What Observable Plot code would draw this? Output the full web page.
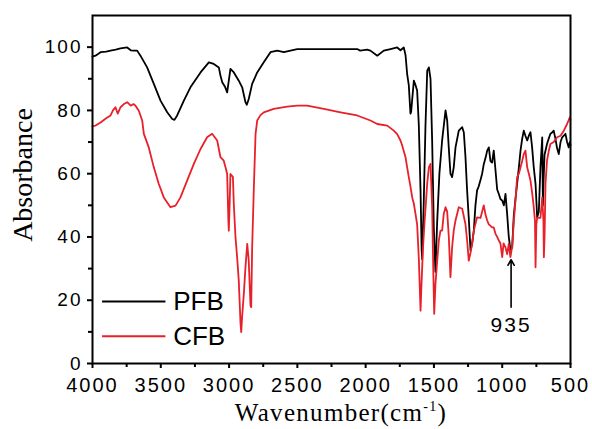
<!DOCTYPE html>
<html>
<head>
<meta charset="utf-8">
<script src="https://cdn.jsdelivr.net/npm/d3@7"></script>
<script src="https://cdn.jsdelivr.net/npm/@observablehq/plot@0.6"></script>
<style>
  html, body { margin: 0; padding: 0; background: #fff; }
  #chart svg { display: block; }
</style>
</head>
<body>
<div id="chart"></div>
<script>
// ---- Data ----
const seriesNames = ["PFB", "CFB"];
const seriesColors = ["#000000", "#e8202a"];

const pfbWavenumber = [4000,3978,3941,3900,3868,3830,3795,3746,3720,3698,3673,3649,3600,3551,3502,3453,3416,3400,3380,3331,3283,3209,3148,3112,3075,3063,3050,3030,3014,2990,2965,2929,2904,2880,2870,2856,2831,2794,2746,2697,2648,2599,2550,2501,2400,2300,2200,2100,2062,2040,1990,1965,1915,1867,1818,1769,1745,1721,1708,1696,1684,1672,1667,1647,1635,1623,1611,1598,1590,1586,1575,1562,1549,1537,1525,1513,1501,1489,1476,1460,1440,1415,1403,1391,1379,1367,1355,1342,1318,1293,1281,1269,1257,1245,1232,1220,1208,1196,1184,1172,1159,1147,1135,1122,1110,1098,1086,1074,1062,1049,1037,1025,1013,1000,988,976,964,952,940,927,915,903,891,878,866,854,842,830,817,805,793,781,769,756,744,732,720,707,702,697,690,672,660,647,635,623,610,598,586,573,561,549,537,525,513,505,500];
const pfbAbsorbance = [97.0,97.3,98.4,98.6,98.9,99.2,99.6,99.9,99.0,98.9,98.9,97.3,93.6,88.4,83.1,79.4,77.3,77.0,78.4,83.1,87.3,92.0,95.2,94.7,93.6,91.0,88.9,87.5,85.7,93.1,92.0,89.4,87.3,82.6,81.8,83.6,88.4,92.0,95.2,98.4,98.9,98.4,98.9,99.4,99.4,99.4,99.4,99.4,99.4,98.9,99.2,98.9,97.3,98.9,99.4,99.9,99.0,99.9,97.5,91.5,88.0,79.0,79.5,89.4,88.0,86.3,75.8,54.7,36.0,33.0,50.0,75.0,92.6,93.6,90.0,70.5,43.0,29.0,45.0,60.0,70.5,80.0,76.8,68.0,60.0,58.9,62.0,68.3,73.6,74.7,73.0,65.2,54.7,46.0,35.7,38.0,42.0,50.0,54.7,56.0,58.0,60.0,63.0,65.0,67.3,68.3,64.0,63.5,67.3,61.0,55.0,53.6,52.0,51.5,50.0,53.6,47.3,40.0,36.0,36.7,47.0,52.0,56.8,62.0,67.3,71.0,73.6,72.0,70.5,72.0,73.1,68.3,62.0,56.8,46.2,48.0,62.0,71.5,50.0,58.0,66.0,69.4,71.0,72.6,73.0,73.6,71.0,68.0,66.2,70.0,71.5,72.0,72.6,70.0,68.3,70.0,69.0];

const cfbWavenumber = [4000,3978,3941,3900,3868,3850,3832,3815,3795,3770,3746,3720,3700,3685,3661,3636,3624,3588,3551,3515,3478,3429,3392,3356,3307,3258,3209,3161,3124,3087,3063,3039,3026,3014,3005,3002,2996,2990,2972,2965,2953,2941,2929,2916,2911,2904,2892,2880,2867,2856,2843,2838,2831,2819,2806,2794,2770,2746,2673,2575,2501,2428,2306,2184,2062,1965,1915,1842,1794,1769,1745,1733,1708,1696,1684,1672,1659,1647,1635,1623,1611,1598,1590,1580,1568,1560,1549,1537,1525,1513,1505,1498,1489,1476,1464,1452,1440,1428,1415,1403,1391,1379,1367,1355,1342,1318,1293,1269,1257,1245,1232,1220,1208,1184,1159,1135,1122,1110,1098,1086,1074,1062,1049,1037,1025,1013,1000,990,976,964,952,940,927,915,903,891,878,866,854,842,830,817,805,793,781,769,760,756,750,744,732,720,707,698,695,690,683,672,660,647,623,598,573,549,525,505,500];
const cfbAbsorbance = [75.0,75.2,76.2,77.5,78.4,80.0,81.0,79.0,81.0,82.0,82.6,81.5,82.0,81.5,79.9,76.8,72.6,68.3,62.0,56.8,52.5,49.4,49.9,52.5,57.8,63.1,67.8,71.5,72.6,70.5,65.2,64.1,62.0,59.9,45.0,42.0,50.0,59.9,59.0,50.0,40.0,33.6,26.2,12.5,9.9,15.0,22.0,30.4,37.8,32.5,18.3,17.8,36.7,55.0,72.6,76.8,78.5,79.4,80.5,81.2,81.5,81.5,80.5,79.4,78.4,76.8,75.7,75.2,73.6,72.5,70.5,69.0,65.2,62.0,58.9,56.0,52.5,50.5,47.3,44.0,33.6,16.7,26.2,36.7,45.2,50.0,57.0,62.0,63.1,49.4,30.0,15.7,25.0,32.5,38.9,42.0,42.0,47.3,49.4,48.0,40.0,27.3,36.7,42.0,45.2,49.4,48.9,44.0,38.9,32.5,35.0,38.0,42.0,46.2,46.0,50.0,47.0,45.2,44.0,43.5,43.0,43.0,41.0,40.0,38.9,38.0,33.6,38.0,36.7,34.6,37.8,33.6,37.0,45.0,51.5,58.9,60.0,62.0,64.0,66.2,67.3,62.0,60.0,57.8,54.0,49.4,45.0,30.4,44.0,46.0,46.0,46.0,52.5,45.0,33.6,40.0,56.8,64.1,67.0,69.4,70.0,71.5,72.0,73.6,75.7,77.8,77.0];

const xMajorTicks = [4000, 3500, 3000, 2500, 2000, 1500, 1000, 500];
const xMinorTicks = [3750, 3250, 2750, 2250, 1750, 1250, 750];
const yMajorTicks = [0, 20, 40, 60, 80, 100];
const yMinorTicks = [10, 30, 50, 70, 90];

const annotationWavenumber = [935];
const annotationLabel = ["935"];

const xTitle = "Wavenumber(cm";
const xTitleSup = "-1";
const yTitle = "Absorbance";

// ---- Build table ----
const rows = [];
pfbWavenumber.forEach((w, i) => rows.push({series: seriesNames[0], wn: w, a: pfbAbsorbance[i]}));
cfbWavenumber.forEach((w, i) => rows.push({series: seriesNames[1], wn: w, a: cfbAbsorbance[i]}));

const annot = annotationWavenumber.map((w, i) => ({wn: w, label: annotationLabel[i]}));

const legendRows = seriesNames.map((s, i) => ({series: s, color: seriesColors[i], y: 19.6 - i * 11}));

const sans = "'Liberation Sans', Arial, sans-serif";
const serif = "'Liberation Serif', 'Times New Roman', serif";

const chart = Plot.plot({
  width: 592,
  height: 429,
  marginLeft: 92,
  marginRight: 22,
  marginTop: 15,
  marginBottom: 66,
  style: {fontFamily: sans, color: "#000", background: "#fff"},
  x: {domain: [4000, 500]},
  y: {domain: [0, 110]},
  marks: [
    Plot.line(rows.filter(d => d.series === "PFB"), {x: "wn", y: "a", stroke: seriesColors[0], strokeWidth: 1.8, curve: "linear"}),
    Plot.line(rows.filter(d => d.series === "CFB"), {x: "wn", y: "a", stroke: seriesColors[1], strokeWidth: 1.8, curve: "linear"}),
    Plot.frame({stroke: "#000", strokeWidth: 2}),
    Plot.axisX({ticks: xMajorTicks, tickSize: 5, tickPadding: 9, fontSize: 20, label: null, strokeWidth: 2, tickFormat: d => String(d)}),
    Plot.axisX({ticks: xMinorTicks, tickSize: 4, label: null, strokeWidth: 2, tickFormat: () => ""}),
    Plot.axisY({ticks: yMajorTicks, tickSize: 5, tickPadding: 5, fontSize: 19, label: null, strokeWidth: 2, tickFormat: d => String(d)}),
    Plot.axisY({ticks: yMinorTicks, tickSize: 4, label: null, strokeWidth: 2, tickFormat: () => ""}),
    // legend
    Plot.link(legendRows, {x1: 3930, x2: 3466, y1: "y", y2: "y", stroke: "color", strokeWidth: 2}),
    Plot.text(legendRows, {x: 3409, y: "y", text: "series", textAnchor: "start", fontSize: 26, fontFamily: sans}),
    // annotation
    Plot.arrow(annot, {x1: "wn", x2: "wn", y1: 17.8, y2: 32.8, stroke: "#000", strokeWidth: 1.6, headLength: 6, insetEnd: 0}),
    Plot.text(annot, {x: "wn", y: 12.0, text: "label", fontSize: 21, fontFamily: sans})
  ]
});

const svg = d3.select(chart);
svg.selectAll('g[aria-label="x-axis tick label"] text').attr("letter-spacing", 2);
svg.selectAll('g[aria-label="y-axis tick label"] text').attr("letter-spacing", 2);
svg.selectAll('g[aria-label="text"] text').filter(function() { return this.textContent === "935"; }).attr("letter-spacing", 2);

// axis titles
const xt = svg.append("text")
  .attr("x", 341).attr("y", 421)
  .attr("text-anchor", "middle")
  .attr("font-family", serif).attr("font-size", 25).attr("letter-spacing", 1.3)
  .attr("fill", "#000");
xt.append("tspan").text(xTitle);
xt.append("tspan").attr("font-size", 14).attr("dy", -10).text(xTitleSup);
xt.append("tspan").attr("dy", 10).text(")");

svg.append("text")
  .attr("transform", "translate(32,175) rotate(-90)")
  .attr("text-anchor", "middle")
  .attr("font-family", serif).attr("font-size", 28)
  .attr("fill", "#000")
  .text(yTitle);

document.getElementById("chart").appendChild(chart);
</script>
</body>
</html>
